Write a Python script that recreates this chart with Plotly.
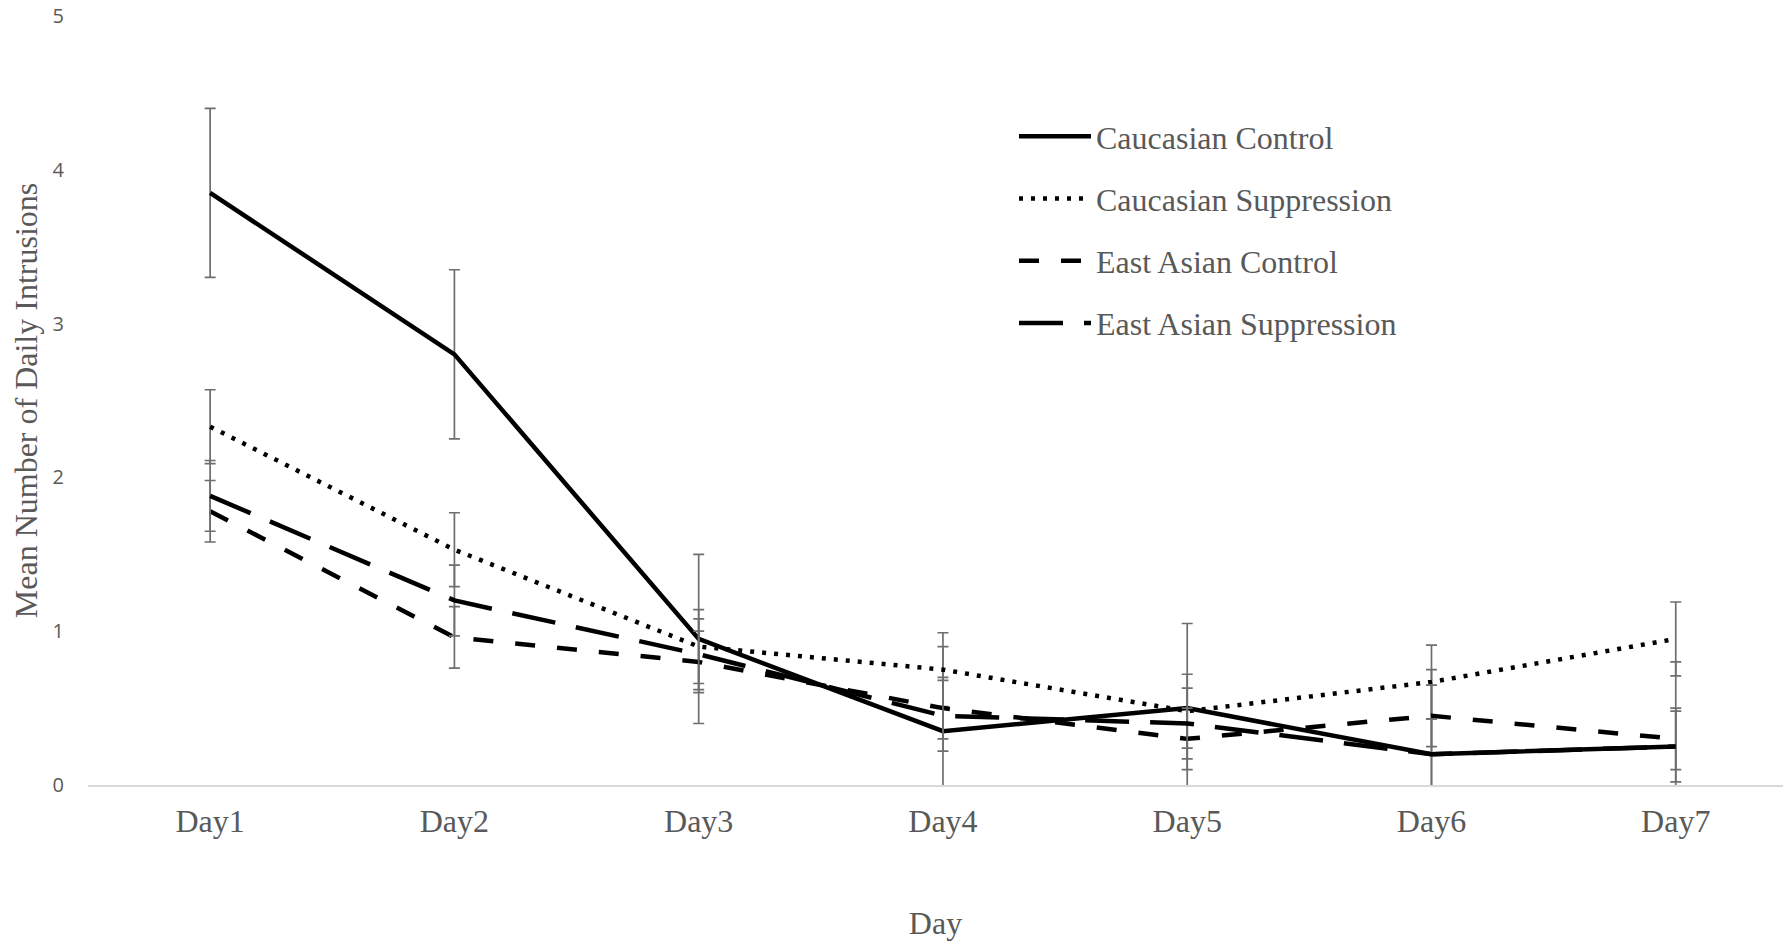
import plotly.graph_objects as go

days = ["Day1", "Day2", "Day3", "Day4", "Day5", "Day6", "Day7"]

cauc_control = [3.85, 2.80, 0.95, 0.35, 0.50, 0.20, 0.25]
cauc_control_err = [0.55, 0.55, 0.55, 0.55, 0.55, 0.55, 0.55]

cauc_suppr = [2.33, 1.53, 0.90, 0.75, 0.48, 0.67, 0.95]
cauc_suppr_err = [0.24, 0.24, 0.24, 0.24, 0.24, 0.24, 0.24]

ea_control = [1.78, 0.96, 0.80, 0.50, 0.30, 0.45, 0.30]
ea_control_err = [0.20, 0.20, 0.20, 0.20, 0.20, 0.20, 0.20]

ea_suppr = [1.88, 1.20, 0.85, 0.45, 0.40, 0.20, 0.25]
ea_suppr_err = [0.23, 0.23, 0.23, 0.23, 0.23, 0.23, 0.23]

y_ticks = [0, 1, 2, 3, 4, 5]

SERIF = "Liberation Serif, Times New Roman, serif"
SANS = "Open Sans, Noto Sans, sans-serif"
TXT = "#595959"
ERR = "#6e6e6e"

series = [
    ("Caucasian Control", cauc_control, cauc_control_err, "solid"),
    ("Caucasian Suppression", cauc_suppr, cauc_suppr_err, "4px,8px"),
    ("East Asian Control", ea_control, ea_control_err, "20px,22px"),
    ("East Asian Suppression", ea_suppr, ea_suppr_err, "44px,21px"),
]

fig = go.Figure()
for i, (name, vals, errs, dash) in enumerate(series):
    fig.add_trace(go.Scatter(
        x=days, y=vals, name=name, mode="lines",
        legendgroup=f"g{i}",
        line=dict(color="black", width=4.5, dash=dash),
        error_y=dict(type="data", array=errs, visible=True,
                     color=ERR, thickness=1.7, width=5.5),
    ))

# page body has an 8px margin, so the figure is sized to fit the window
W, H = 1775, 933
L, T, B = 80, 8, 156
PW, PH = W - L, H - T - B

fig.update_layout(
    width=W, height=H,
    margin=dict(l=L, r=0, t=T, b=B, autoexpand=False),
    plot_bgcolor="white", paper_bgcolor="white",
    showlegend=True,
    legend=dict(
        x=(1006 - L) / PW, y=(H - B - 101) / PH, xanchor="left", yanchor="top",
        font=dict(family=SERIF, size=32, color=TXT),
        bgcolor="rgba(0,0,0,0)", itemwidth=72,
        traceorder="grouped", tracegroupgap=17.6,
    ),
    xaxis=dict(
        type="category", range=[-0.5, 6.439],
        showgrid=False, zeroline=False,
        showline=True, linecolor="#d9d9d9", linewidth=1.5,
        ticks="", ticklabelstandoff=7,
        tickfont=dict(family=SERIF, size=32, color=TXT),
        title=dict(text="Day", font=dict(family=SERIF, size=32, color=TXT),
                   standoff=86),
    ),
    yaxis=dict(
        range=[0, 5], tickvals=y_ticks, ticktext=[str(v) for v in y_ticks],
        showgrid=False, zeroline=False, showline=False,
        ticks="", ticklabelstandoff=23, ticklabeloverflow="allow",
        tickfont=dict(family=SANS, size=20, color=TXT),
        title=dict(text="Mean Number of Daily Intrusions",
                   font=dict(family=SERIF, size=32, color=TXT), standoff=5),
    ),
)

fig.write_html("out.html")
